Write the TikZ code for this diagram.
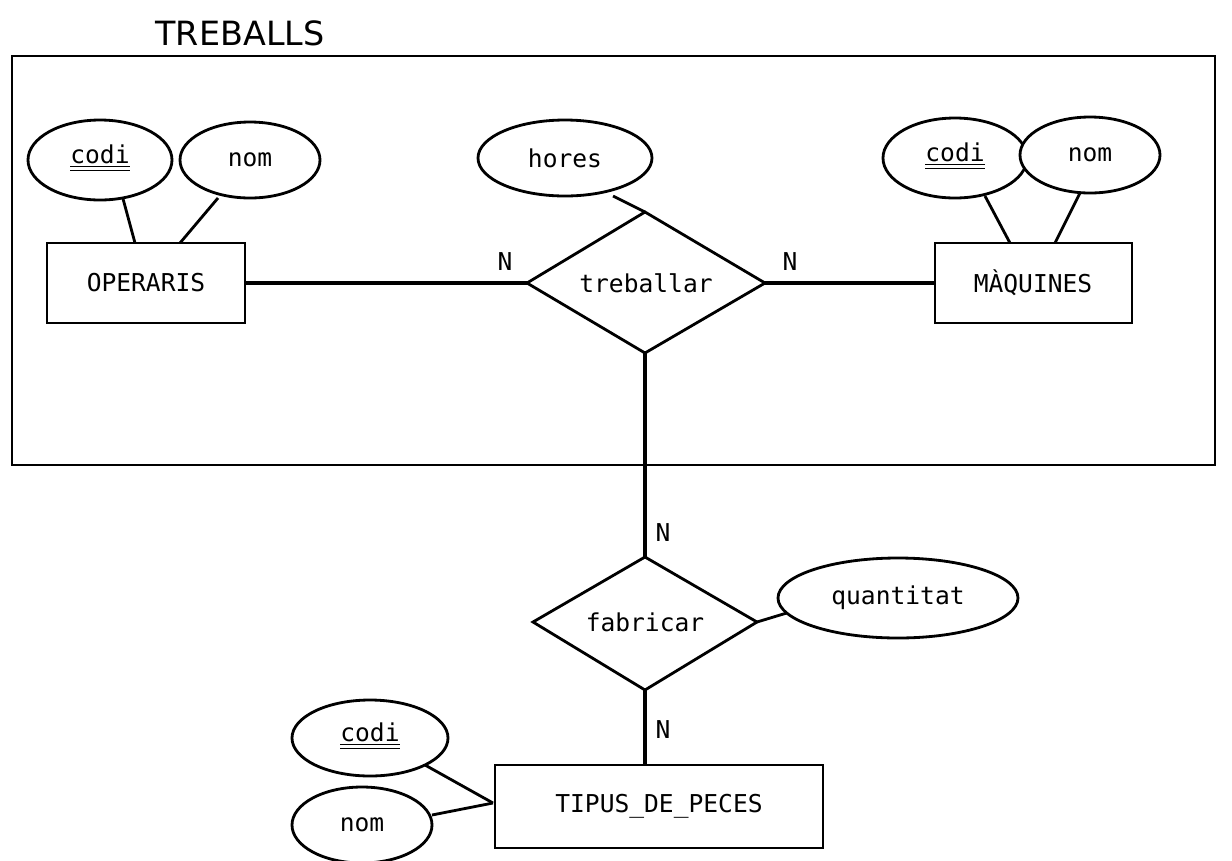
\documentclass[tikz,border=0pt]{standalone}
\usepackage{fontspec}
\setmainfont{DejaVu Sans Mono}
\newfontfamily\titlefont{DejaVu Sans}
\usetikzlibrary{shapes.geometric}
\begin{document}
\begin{tikzpicture}[x=0.02cm,y=-0.02cm,
  lw/.style={line width=1.6pt},
  thk/.style={line width=2.8pt},
  txt/.style={font=\fontsize{14}{16}\selectfont},
  ell/.style={lw,draw,fill=white}]
\useasboundingbox (0,0) rectangle (1232,860);
\node[font=\titlefont\fontsize{19}{22}\selectfont] (title) at (240,33) {TREBALLS};
\draw[lw] (12,56) rectangle (1215,465);
% OPERARIS
\draw[lw] (47,243) rectangle (245,323);
\node[txt] (op) at (146,283) {OPERARIS};
\draw[lw] (122,195) -- (135,243);
\draw[lw] (218,198) -- (180,243);
\draw[ell] (100,160) ellipse [x radius=72,y radius=40];
\node[txt] (opc) at (100,158) {\underline{\underline{codi}}};
\draw[ell] (250,160) ellipse [x radius=70,y radius=38];
\node[txt] (opn) at (250,160) {nom};
% MAQUINES
\draw[lw] (935,243) rectangle (1132,323);
\node[txt] (maq) at (1033,283) {MÀQUINES};
\draw[lw] (985,196) -- (1010,243);
\draw[lw] (1080,193) -- (1055,243);
\draw[ell] (955,158) ellipse [x radius=72,y radius=40];
\node[txt] (mc) at (955,156) {\underline{\underline{codi}}};
\draw[ell] (1090,155) ellipse [x radius=70,y radius=38];
\node[txt] (mn) at (1090,155) {nom};
% treballar
\draw[lw] (613,196) -- (645,212);
\draw[ell] (565,158) ellipse [x radius=87,y radius=38];
\node[txt] (h) at (565,158) {hores};
\draw[lw] (527,283) -- (645,212) -- (765,283) -- (645,353) -- cycle;
\node[txt] (tr) at (646,283) {treballar};
\draw[thk] (245,283) -- (527,283);
\draw[thk] (765,283) -- (935,283);
\node[txt] (n1) at (505,262) {N};
\node[txt] (n2) at (790,262) {N};
\draw[thk] (645,353) -- (645,557);
\node[txt] (n3) at (663,533) {N};
% fabricar
\draw[lw] (533,622) -- (645,557) -- (757,622) -- (645,690) -- cycle;
\node[txt] (fa) at (645,622) {fabricar};
\draw[lw] (757,622) -- (790,612);
\draw[ell] (898,598) ellipse [x radius=120,y radius=40];
\node[txt] (q) at (898,598) {quantitat};
\draw[thk] (645,690) -- (645,765);
\node[txt] (n4) at (663,730) {N};
% TIPUS
\draw[lw] (495,765) rectangle (823,848);
\node[txt] (tp) at (659,806) {TIPUS\_DE\_PECES};
\draw[lw] (425,765) -- (493,803);
\draw[lw] (432,815) -- (493,803);
\draw[ell] (370,738) ellipse [x radius=78,y radius=38];
\node[txt] (tc) at (370,736) {\underline{\underline{codi}}};
\draw[ell] (362,825) ellipse [x radius=70,y radius=38];
\node[txt] (tn) at (362,825) {nom};
\end{tikzpicture}
\end{document}
